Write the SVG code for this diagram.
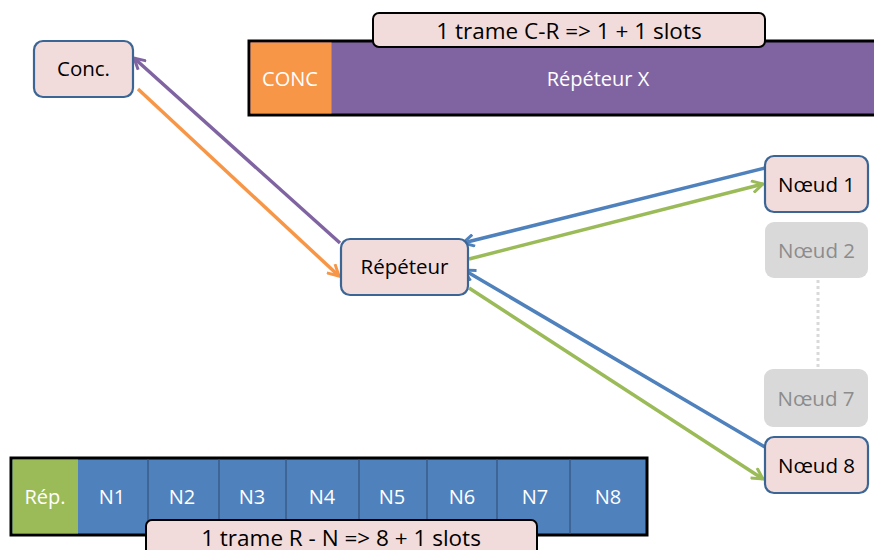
<svg xmlns="http://www.w3.org/2000/svg" width="874" height="550" viewBox="0 0 874 550">
<style>
.node{fill:#f2dcdb;stroke:#3a6595;stroke-width:2.2}
.ghost{fill:#d9d9d9;stroke:none}
.t{font-family:"Open Sans","Liberation Sans",Arial,sans-serif;font-size:20.5px;text-anchor:middle;dominant-baseline:central;fill:#000}
.tg{fill:#8c8c8c}
.tw{fill:#fff;font-size:20px}
.big{font-size:22.5px}
.lbl{fill:#f2dcdb;stroke:#000;stroke-width:2}
.cell{stroke:#385d8a;stroke-width:1.5}
.c{fill:none;stroke-width:3.5}
</style>
<defs>
<marker id="ap" viewBox="0 0 14 14" refX="12" refY="7" markerWidth="14" markerHeight="14" markerUnits="userSpaceOnUse" orient="auto"><path d="M1,1 L12,7 L1,13" fill="none" stroke="#8064a2" stroke-width="3"/></marker>
<marker id="ao" viewBox="0 0 14 14" refX="12" refY="7" markerWidth="14" markerHeight="14" markerUnits="userSpaceOnUse" orient="auto"><path d="M1,1 L12,7 L1,13" fill="none" stroke="#f79646" stroke-width="3"/></marker>
<marker id="ab" viewBox="0 0 14 14" refX="12" refY="7" markerWidth="14" markerHeight="14" markerUnits="userSpaceOnUse" orient="auto"><path d="M1,1 L12,7 L1,13" fill="none" stroke="#4f81bd" stroke-width="3"/></marker>
<marker id="ag" viewBox="0 0 14 14" refX="12" refY="7" markerWidth="14" markerHeight="14" markerUnits="userSpaceOnUse" orient="auto"><path d="M1,1 L12,7 L1,13" fill="none" stroke="#9bbb59" stroke-width="3"/></marker>
</defs>

<g id="frame-cr">
<rect x="249" y="41" width="630" height="74" fill="#8064a2" stroke="#000" stroke-width="3"/>
<rect x="250.5" y="42.5" width="81" height="71" fill="#f79646"/>
<text class="t tw" x="290" y="78">CONC</text>
<text class="t tw" x="598" y="78">Répéteur X</text>
<rect class="lbl" x="373" y="13" width="392" height="34" rx="6"/>
<text class="t big" x="569" y="30">1 trame C-R =&gt; 1 + 1 slots</text>
</g>

<g id="frame-rn">
<rect x="11" y="458" width="636" height="77" fill="#4f81bd" stroke="#000" stroke-width="3"/>
<rect x="12.5" y="459.5" width="65.5" height="74" fill="#9bbb59"/>
<line class="cell" x1="148" y1="459.5" x2="148" y2="533.5"/>
<line class="cell" x1="219" y1="459.5" x2="219" y2="533.5"/>
<line class="cell" x1="286" y1="459.5" x2="286" y2="533.5"/>
<line class="cell" x1="359" y1="459.5" x2="359" y2="533.5"/>
<line class="cell" x1="427" y1="459.5" x2="427" y2="533.5"/>
<line class="cell" x1="497" y1="459.5" x2="497" y2="533.5"/>
<line class="cell" x1="570" y1="459.5" x2="570" y2="533.5"/>
<text class="t tw" x="45" y="496">Rép.</text>
<text class="t tw" x="112" y="496">N1</text>
<text class="t tw" x="182" y="496">N2</text>
<text class="t tw" x="252" y="496">N3</text>
<text class="t tw" x="322" y="496">N4</text>
<text class="t tw" x="392" y="496">N5</text>
<text class="t tw" x="462" y="496">N6</text>
<text class="t tw" x="535" y="496">N7</text>
<text class="t tw" x="608" y="496">N8</text>
<rect class="lbl" x="146" y="520" width="391" height="40" rx="6"/>
<text class="t big" x="341" y="537">1 trame R - N =&gt; 8 + 1 slots</text>
</g>

<g id="connectors">
<line class="c" stroke="#8064a2" x1="340" y1="243" x2="134" y2="58" marker-end="url(#ap)"/>
<line class="c" stroke="#f79646" x1="138" y1="89" x2="339" y2="276" marker-end="url(#ao)"/>
<line class="c" stroke="#4f81bd" x1="765" y1="168" x2="463" y2="243" marker-end="url(#ab)"/>
<line class="c" stroke="#9bbb59" x1="469" y1="259" x2="763" y2="184" marker-end="url(#ag)"/>
<line class="c" stroke="#4f81bd" x1="765" y1="447" x2="464" y2="270" marker-end="url(#ab)"/>
<line class="c" stroke="#9bbb59" x1="469" y1="288" x2="763" y2="479" marker-end="url(#ag)"/>
<line x1="818" y1="280" x2="818" y2="369" stroke="#d9d9d9" stroke-width="3" stroke-dasharray="3,3"/>
</g>

<g id="conc">
<rect class="node" x="34" y="41" width="99" height="56" rx="9"/>
<text class="t" x="83.5" y="68">Conc.</text>
</g>
<g id="repeteur">
<rect class="node" x="341" y="239" width="127" height="56" rx="9"/>
<text class="t" x="404.5" y="266">Répéteur</text>
</g>
<g id="noeud1">
<rect class="node" x="765" y="156" width="103" height="56" rx="9"/>
<text class="t" x="816.5" y="184">Nœud 1</text>
</g>
<g id="noeud2">
<rect class="ghost" x="765" y="222" width="103" height="56" rx="9"/>
<text class="t tg" x="816.5" y="250">Nœud 2</text>
</g>
<g id="noeud7">
<rect class="ghost" x="764" y="369" width="104" height="58" rx="9"/>
<text class="t tg" x="816" y="398">Nœud 7</text>
</g>
<g id="noeud8">
<rect class="node" x="765" y="437" width="103" height="56" rx="9"/>
<text class="t" x="816.5" y="465">Nœud 8</text>
</g>
</svg>
